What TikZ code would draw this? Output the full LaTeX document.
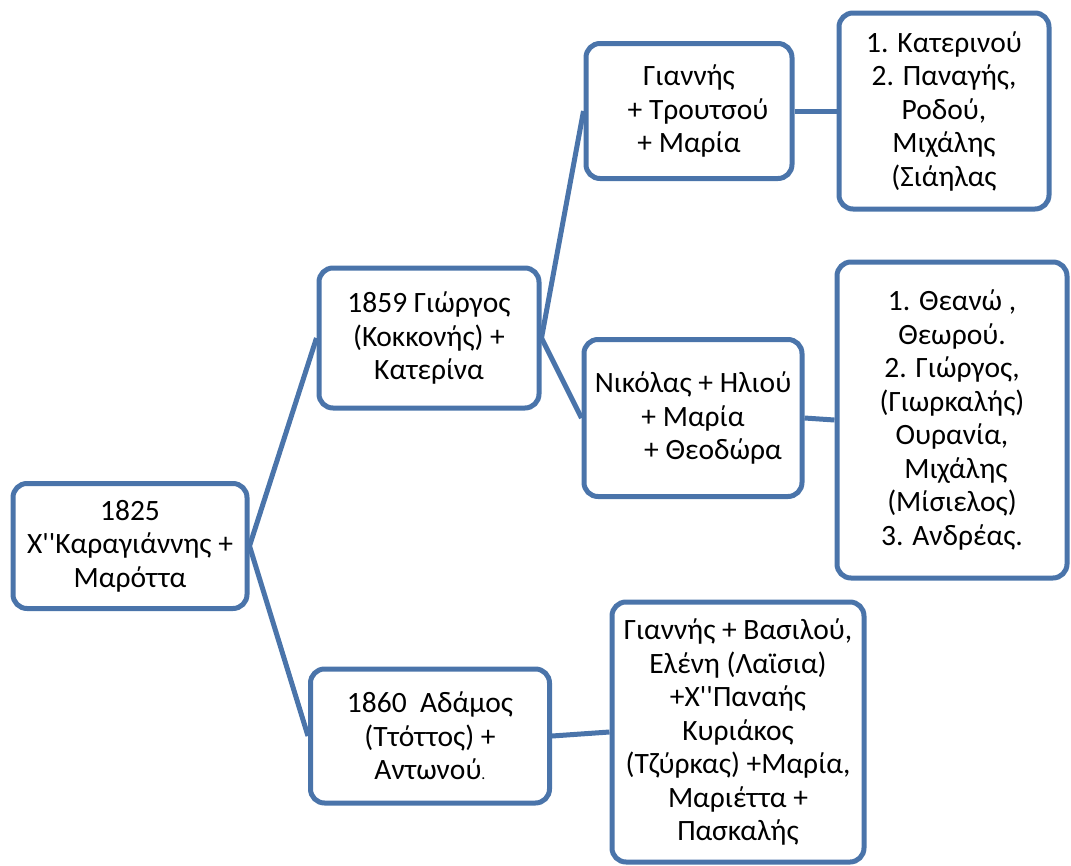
\documentclass[tikz,border=0pt]{standalone}
\usepackage{fontspec}
\newfontfamily\treefont{Carlito}
\usetikzlibrary{positioning}
\definecolor{treeblue}{RGB}{74,116,170}
\tikzset{
  person/.style={draw=treeblue, line width=5pt, rounded corners=14pt, fill=white,
    align=center, inner sep=2pt, font=\treefont\fontsize{29.5}{33.5}\selectfont},
  link/.style={draw=treeblue, line width=5pt}
}

\begin{document}
\begin{tikzpicture}[x=1pt,y=-1pt]
\useasboundingbox (0,0) rectangle (1071,865);
% generations, left to right
\node[person, minimum width=234pt, minimum height=125pt] (root) at (130,546) {1825\\ X''Καραγιάννης +\\ Μαρόττα};
\node[person, minimum width=220pt, minimum height=140pt] (giorgos) at (429,338) {1859 Γιώργος\\ (Κοκκονής) +\\ Κατερίνα};
\node[person, minimum width=239pt, minimum height=134pt] (adamos) at (430,736) {1860\ \ Αδάμος\\ (Ττόττος) +\\ Αντωνού{\fontsize{16}{33}\selectfont.}};
\node[person, minimum width=206pt, minimum height=135pt] (giannis) at (689,111) {Γιαννής\\ \hspace*{18pt}+ Τρουτσού\\ + Μαρία};
\node[person, minimum width=218pt, minimum height=157pt] (nikolas) at (693,418) {Νικόλας + Ηλιού\\ + Μαρία\\ \hspace*{40pt}+ Θεοδώρα};
\node[person, minimum width=210pt, minimum height=196pt] (katerinou) at (944,111) {1. Κατερινού\\ 2. Παναγής,\\ Ροδού,\\ Μιχάλης\\ (Σιάηλας};
\node[person, minimum width=230pt, minimum height=316pt] (theano) at (952,420) {1. Θεανώ ,\\ Θεωρού.\\ 2. Γιώργος,\\ (Γιωρκαλής)\\ Ουρανία,\\ \hspace*{8pt}Μιχάλης\\ (Μίσιελος)\\ 3. Ανδρέας.};
\node[person, minimum width=252pt, minimum height=260pt] (vasilou) at (738,732) {Γιαννής + Βασιλού,\\ Ελένη (Λαϊσια)\\ +X''Παναής\\ Κυριάκος\\ (Τζύρκας) +Μαρία,\\ Μαριέττα +\\ Πασκαλής};
% connectors
\draw[link] (root.east) -- (giorgos.west);
\draw[link] (root.east) -- (adamos.west);
\draw[link] (giorgos.east) -- (giannis.west);
\draw[link] (giorgos.east) -- (nikolas.west);
\draw[link] (giannis.east) -- (katerinou.west);
\draw[link] (nikolas.east) -- (theano.west);
\draw[link] (adamos.east) -- (vasilou.west);
\end{tikzpicture}
\end{document}
